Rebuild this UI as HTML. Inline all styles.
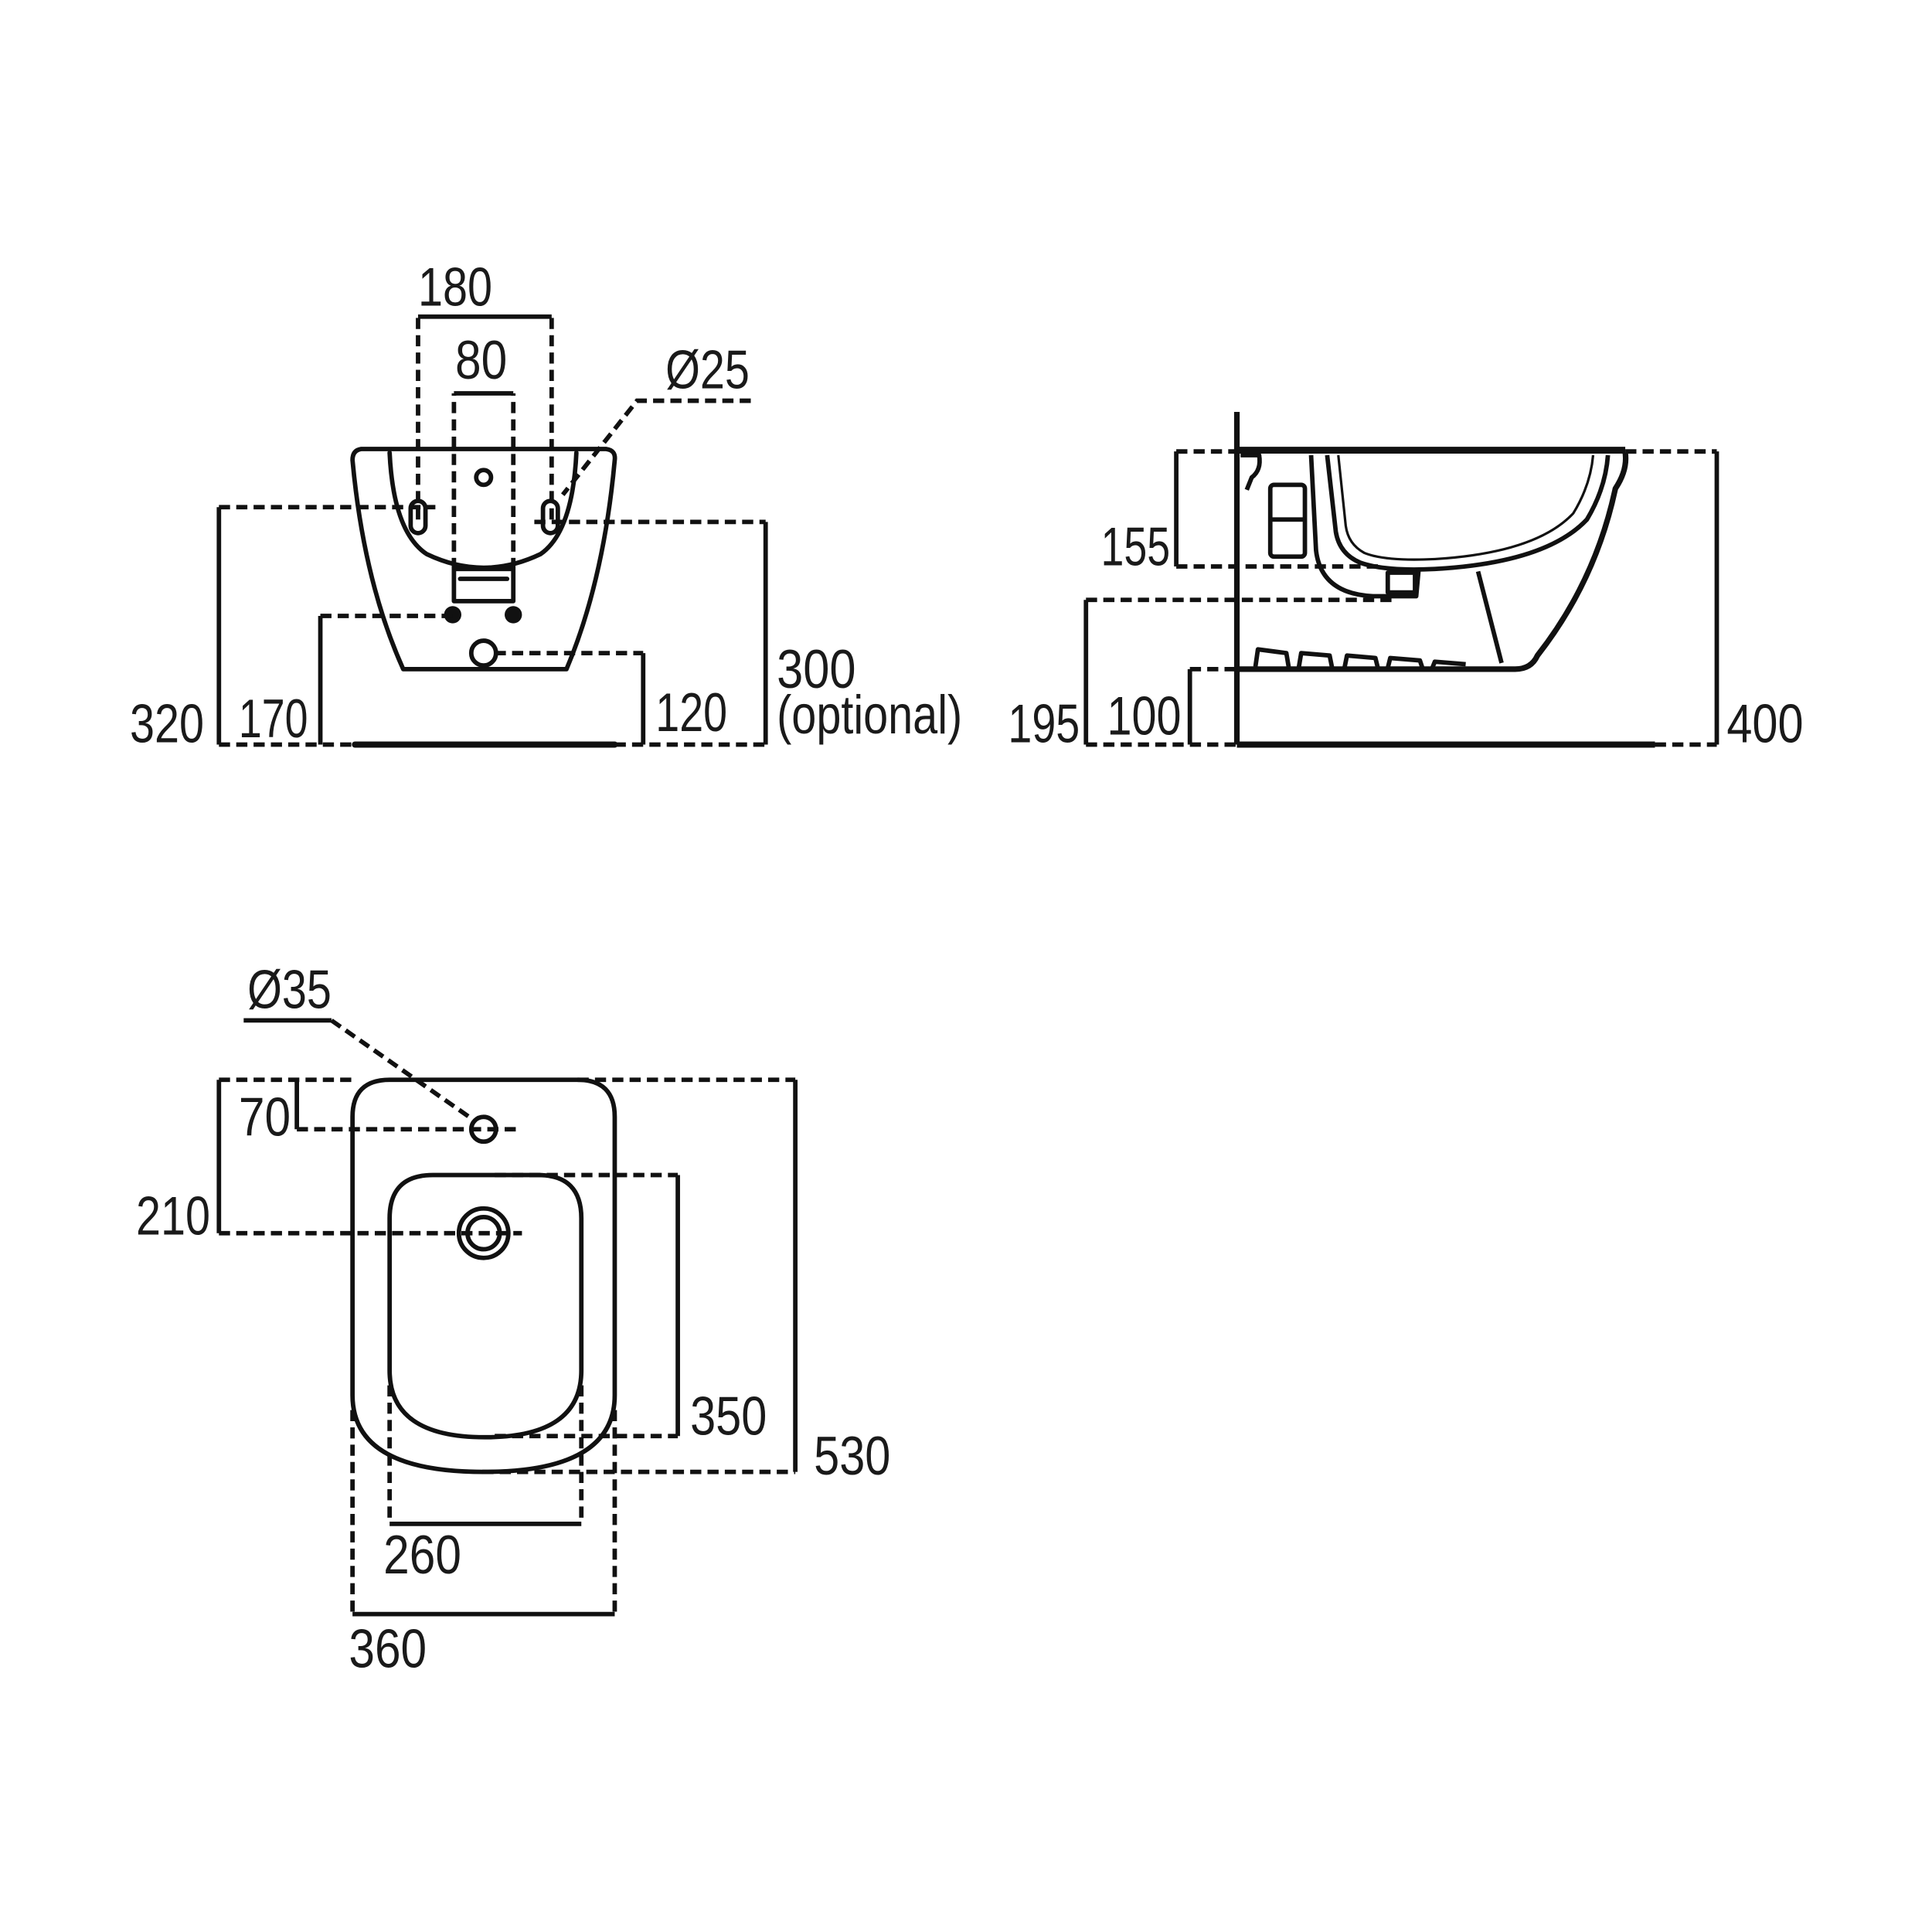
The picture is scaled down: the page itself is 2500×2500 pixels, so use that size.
<!DOCTYPE html>
<html><head><meta charset="utf-8">
<style>
html,body{margin:0;padding:0;background:#fff;}
svg{display:block;}
text{font-family:"Liberation Sans",sans-serif;font-size:44px;fill:#1a1a1a;}
</style></head>
<body>
<svg width="2500" height="2500" viewBox="0 0 1562 1562" xmlns="http://www.w3.org/2000/svg">
<rect width="1562" height="1562" fill="#fff"/>
<g fill="none" stroke="#111" stroke-width="3.6" stroke-linejoin="round" stroke-linecap="round">
<!-- ===== FRONT VIEW ===== -->
<path d="M292,363 L490,363 Q498,364 497,372 Q488,470 458,541 L326,541 Q294,470 285,372 Q285,364 292,363Z"/>
<path d="M315,366 Q318,430 345,448 Q391,470 437,448 Q463,430 466,366"/>
<circle cx="391" cy="386" r="6"/>
<rect x="332" y="405" width="12" height="26" rx="6"/>
<rect x="439" y="405" width="12" height="26" rx="6"/>
<rect x="367" y="460" width="48" height="26"/>
<line x1="372" y1="468" x2="410" y2="468"/>
<circle cx="391" cy="528" r="10"/>
<line x1="287" y1="602" x2="497" y2="602" stroke-width="5"/>
</g>
<g fill="#111"><circle cx="366" cy="497" r="7"/><circle cx="415" cy="497" r="7"/></g>
<g fill="none" stroke="#111" stroke-width="3.6" stroke-dasharray="9 5">
<path d="M338,420 L338,256"/><path d="M446,420 L446,256"/>
<path d="M367,460 L367,318"/><path d="M415,460 L415,318"/>
<path d="M177,410 L352,410"/>
<path d="M177,602 L287,602"/><path d="M497,602 L620,602"/>
<path d="M259,498 L366,498"/>
<path d="M400,528 L520,528"/>
<path d="M432,422 L619,422"/>
<path d="M607,324 L515,324 L455,400"/>
</g>
<g fill="none" stroke="#111" stroke-width="3.6">
<path d="M338,256 L446,256"/><path d="M367,318 L415,318"/>
<path d="M177,410 L177,602"/><path d="M259,498 L259,602"/>
<path d="M520,528 L520,602"/><path d="M619,422 L619,602"/>
</g>
<g>
<text x="338" y="247" textLength="60" lengthAdjust="spacingAndGlyphs">180</text>
<text x="368" y="306" textLength="42" lengthAdjust="spacingAndGlyphs">80</text>
<text x="538" y="314" textLength="68" lengthAdjust="spacingAndGlyphs">Ø25</text>
<text x="105" y="600" textLength="60" lengthAdjust="spacingAndGlyphs">320</text>
<text x="193" y="596" textLength="56" lengthAdjust="spacingAndGlyphs">170</text>
<text x="530" y="591" textLength="58" lengthAdjust="spacingAndGlyphs">120</text>
<text x="628" y="556" textLength="64" lengthAdjust="spacingAndGlyphs">300</text>
<text x="628" y="593" textLength="150" lengthAdjust="spacingAndGlyphs">(optional)</text>
</g>

<!-- ===== SIDE VIEW ===== -->
<g fill="none" stroke="#111" stroke-width="3.6" stroke-linejoin="round">
<line x1="1000" y1="333" x2="1000" y2="602" stroke-width="4.5"/>
<line x1="1000" y1="602" x2="1338" y2="602" stroke-width="5"/>
<line x1="1000" y1="364" x2="1314" y2="364" stroke-width="5.5"/>
<path d="M1314,366 Q1316,380 1306,395 Q1290,470 1243,530 Q1238,541 1225,541 L1000,541" stroke-width="4.5"/>
<path d="M1300,368 Q1298,395 1283,420 Q1250,455 1160,460 Q1120,462 1100,455 Q1083,448 1080,430 L1073,368"/>
<path d="M1288,368 Q1286,392 1272,415 Q1242,447 1160,452 Q1120,454 1103,447 Q1090,440 1088,425 L1082,368" stroke-width="2"/>
<path d="M1060,368 L1064,445 Q1068,480 1110,482 L1145,482 L1147,460"/>
<path d="M1195,462 L1214,536"/>
<path d="M1003,368 L1018,368 Q1020,380 1012,386 L1008,396"/>
<rect x="1027" y="392" width="28" height="58" rx="3"/>
<line x1="1027" y1="420" x2="1055" y2="420"/>
<rect x="1122" y="463" width="22" height="16"/>
<path d="M1015,539 L1017,525 L1040,528 L1042,540"/>
<path d="M1050,540 L1052,528 L1075,530 L1077,540"/>
<path d="M1087,540 L1089,530 L1112,532 L1114,540"/>
<path d="M1122,540 L1124,532 L1148,534 L1150,540"/>
<path d="M1158,540 L1160,535 L1185,537"/>
<path d="M951,365 L951,458"/><path d="M878,485 L878,602"/>
<path d="M962,541 L962,602"/><path d="M1388,365 L1388,602"/>
</g>
<g fill="none" stroke="#111" stroke-width="3.6" stroke-dasharray="9 5">
<path d="M951,365 L1000,365"/><path d="M1314,365 L1388,365"/>
<path d="M951,458 L1118,458"/>
<path d="M878,485 L1130,485"/>
<path d="M962,541 L1000,541"/>
<path d="M878,602 L1000,602"/><path d="M1338,602 L1388,602"/>
</g>
<text x="890" y="457" textLength="56" lengthAdjust="spacingAndGlyphs">155</text>
<text x="815" y="600" textLength="58" lengthAdjust="spacingAndGlyphs">195</text>
<text x="895" y="594" textLength="60" lengthAdjust="spacingAndGlyphs">100</text>
<text x="1396" y="600" textLength="62" lengthAdjust="spacingAndGlyphs">400</text>

<!-- ===== PLAN VIEW ===== -->
<g fill="none" stroke="#111" stroke-width="3.6">
<path d="M315,873 L467,873 Q497,873 497,903 L497,1128 Q497,1190 391,1190 Q285,1190 285,1128 L285,903 Q285,873 315,873Z"/>
<path d="M350,950 L435,950 Q470,950 470,985 L470,1108 Q470,1162 392,1162 Q315,1162 315,1108 L315,985 Q315,950 350,950Z"/>
<circle cx="391" cy="913" r="10"/>
<circle cx="391" cy="997" r="20"/><circle cx="391" cy="997" r="13"/>
<path d="M240,873 L240,913"/><path d="M177,873 L177,997"/>
<path d="M197,825 L268,825"/>
<path d="M548,950 L548,1161"/><path d="M643,873 L643,1190"/>
<path d="M315,1232 L470,1232"/><path d="M285,1305 L497,1305"/>
</g>
<g fill="none" stroke="#111" stroke-width="3.6" stroke-dasharray="9 5">
<path d="M177,873 L285,873"/>
<path d="M240,913 L418,913"/>
<path d="M177,997 L422,997"/>
<path d="M268,825 L385,907"/>
<path d="M400,950 L548,950"/><path d="M400,1161 L548,1161"/>
<path d="M467,873 L643,873"/><path d="M390,1190 L643,1190"/>
<path d="M315,1120 L315,1232"/><path d="M470,1120 L470,1232"/>
<path d="M285,1140 L285,1305"/><path d="M497,1140 L497,1305"/>
</g>
<text x="200" y="815" textLength="68" lengthAdjust="spacingAndGlyphs">Ø35</text>
<text x="193" y="918" textLength="42" lengthAdjust="spacingAndGlyphs">70</text>
<text x="110" y="998" textLength="60" lengthAdjust="spacingAndGlyphs">210</text>
<text x="558" y="1160" textLength="62" lengthAdjust="spacingAndGlyphs">350</text>
<text x="658" y="1192" textLength="62" lengthAdjust="spacingAndGlyphs">530</text>
<text x="310" y="1272" textLength="63" lengthAdjust="spacingAndGlyphs">260</text>
<text x="282" y="1348" textLength="63" lengthAdjust="spacingAndGlyphs">360</text>
</svg>
</body></html>
